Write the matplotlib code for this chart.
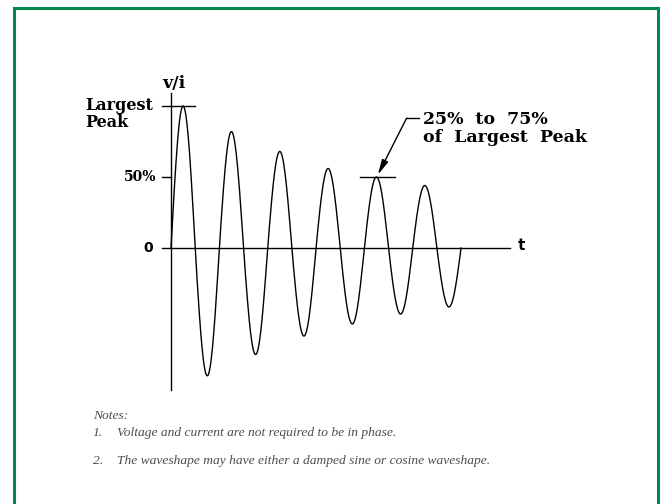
import matplotlib.pyplot as plt
import matplotlib.patches as patches
import numpy as np

# lobe amplitudes in % of the largest peak (positive peaks, negative troughs)
peaks = [100, 82, 68, 56, 50, 44]
troughs = [90, 75, 62, 53.5, 46.5, 41.5]

y_labels = ["Largest\nPeak", "50%", "0"]
note_nums = ["1.", "2."]
notes = ["Voltage and current are not required to be in phase.",
         "The waveshape may have either a damped sine or cosine waveshape."]

W, H = 663, 504
x0, y0 = 171, 248          # pixel position of the origin
sx, sy = 24.17, 1.42       # px per half period, px per percent

fig = plt.figure(figsize=(W / 100, H / 100), dpi=100)
ax = fig.add_axes([0, 0, 1, 1])
ax.set_xlim(-x0 / sx, (W - x0) / sx)
ax.set_ylim(-(H - y0) / sy, y0 / sy)
ax.axis("off")

# damped wave, one half-sine per lobe
amps = []
for p, tr in zip(peaks, troughs):
    amps += [p, -tr]
t_all, v_all = [], []
for k, a in enumerate(amps):
    t = np.linspace(k, k + 1, 60)
    t_all.append(t)
    v_all.append(a * np.sin(np.pi * (t - k)))
ax.plot(np.concatenate(t_all), np.concatenate(v_all), color="black", lw=1.0)

# axes
ax.plot([0, 0], [-100, 109], color="black", lw=1.0)
ax.plot([-0.37, 14.03], [0, 0], color="black", lw=1.0)
ax.plot([-0.37, 0.99], [peaks[0], peaks[0]], color="black", lw=1.0)
ax.plot([-0.37, 0], [50, 50], color="black", lw=1.0)
ax.plot([7.82, 9.27], [peaks[4], peaks[4]], color="black", lw=1.0)

serif = dict(family="DejaVu Serif", weight="bold", color="black")
sans = dict(family="DejaVu Sans", weight="bold", color="black")

ax.text(0.1, 116, "v/i", ha="center", va="center", fontsize=12.5, **serif)
ax.text(-3.55, 94.4, y_labels[0], ha="left", va="center", fontsize=11.5,
        linespacing=1.05, **serif)
ax.text(-0.62, 50, y_labels[1], ha="right", va="center", fontsize=10, **serif)
ax.text(-0.75, 0, y_labels[2], ha="right", va="center", fontsize=10, **sans)
ax.text(14.51, 1.5, "t", ha="center", va="center", fontsize=11, **sans)

# annotation with leader line
ax.plot([10.26, 9.75], [91.5, 91.5], color="black", lw=1.0)
ax.annotate("", xy=(8.56, 51.6), xytext=(9.75, 91.5),
            arrowprops=dict(arrowstyle="-|>,head_length=0.9,head_width=0.2",
                            color="black", lw=1.0, shrinkA=0, shrinkB=0))
ax.text(10.43, 84.2, "25%  to  75%\nof  Largest  Peak", ha="left", va="center",
        fontsize=12.5, linespacing=1.02, **serif)

# notes
note_font = dict(ha="left", va="center", fontsize=9.7, family="Liberation Serif",
                 style="italic", color="#4d4d4d")
fig.text(93 / W, 1 - 416 / H, "Notes:", **note_font)
for num, txt, py in zip(note_nums, notes, [433, 461]):
    fig.text(93 / W, 1 - py / H, num, **note_font)
    fig.text(117 / W, 1 - py / H, txt, **note_font)

# green frame
fig.patches.append(patches.Rectangle((14 / W, -0.1), 644 / W, 1.1 - 8 / H,
                                     transform=fig.transFigure, fill=False,
                                     edgecolor="#00894f", lw=2.2))

fig.savefig("out.png", dpi=100)
